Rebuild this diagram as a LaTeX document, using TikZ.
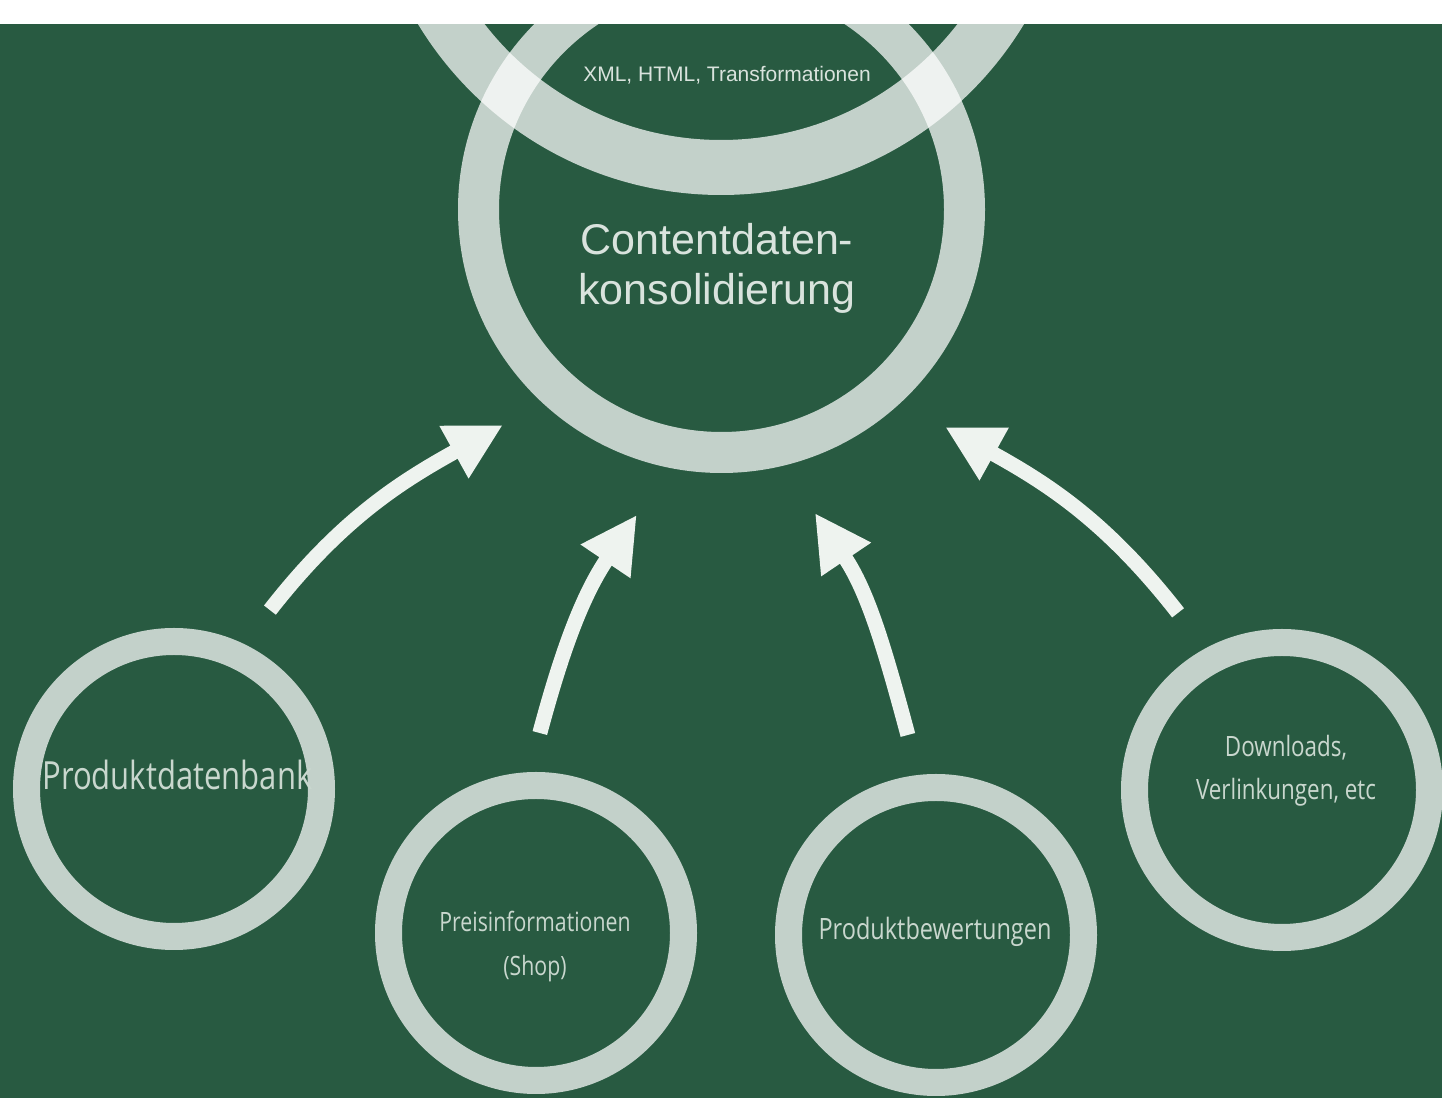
\documentclass[tikz,border=0pt]{standalone}
\usepackage{fontspec}
\newfontfamily\headfont{Liberation Sans}
\newfontfamily\handfont[FakeStretch=0.8]{Open Sans}
\usepackage{tikz}
\usetikzlibrary{arrows.meta,positioning,calc}
\definecolor{board}{HTML}{285A41}
\definecolor{chalk}{HTML}{EEF3EF}
\definecolor{chalktext}{HTML}{C9D7CE}

\begin{document}
\begin{tikzpicture}[x=0.5pt, y=0.5pt,
    ring/.style={circle, draw=white, draw opacity=0.72, inner sep=0pt},
    smallring/.style={ring, line width=13.5pt, minimum size=147.5pt},
    flow/.style={chalk, line width=7.5pt, -{Triangle[length=28pt,width=28pt]}},
    handtxt/.style={text=chalktext, font=\handfont, align=center},
    headtxt/.style={text=chalktext!70!white, font=\headfont, align=center}]
    \useasboundingbox (0,0) rectangle (1442,1098);
    \fill[white] (0,0) rectangle (1442,1098);

    \begin{scope}
    \clip (0,0) rectangle (1442,1074);
    \fill[board] (0,0) rectangle (1442,1074);

    % Frames
    \node[ring, line width=27.5pt, minimum size=326.5pt] (xml) at (721,1257) {};
    \node[ring, line width=20.5pt, minimum size=243pt] (ccc) at (721.5,888.5) {};
    \node[smallring] (pdb) at (174,309) {};
    \node[smallring] (preis) at (536,165) {};
    \node[smallring] (bew) at (936,163) {};
    \node[smallring] (dl) at (1282,308) {};

    % Labels
    \node[headtxt, font=\headfont\fontsize{10.5}{12}\selectfont] (xml-t) at ($(xml.center)+(6,-234)$) {XML, HTML, Transformationen};
    \node[headtxt, font=\headfont\fontsize{21.5}{25}\selectfont] (ccc-t) at ($(ccc.center)+(-4.5,-58.5)$) {Contentdaten-\\konsolidierung};
    \node[handtxt, font=\handfont\fontsize{19.4}{23}\selectfont] (pdb-t) at ($(pdb.center)+(3.5,14)$) {Produktdatenbank};
    \node[handtxt, font=\handfont\fontsize{13.3}{22}\selectfont] (preis-t) at ($(preis.center)+(-1,-14)$) {Preisinformationen\\(Shop)};
    \node[handtxt, font=\handfont\fontsize{14.7}{18}\selectfont] (bew-t) at ($(bew.center)+(-1,3)$) {Produktbewertungen};
    \node[handtxt, font=\handfont\fontsize{14}{21.5}\selectfont] (dl-t) at ($(dl.center)+(4,19)$) {Downloads,\\Verlinkungen, etc};

    % Flows into the consolidation
    \coordinate (a1s) at ($(pdb.center)+(61.8:101.5pt)$);
    \coordinate (a1e) at ($(ccc.center)+(224.6:153.5pt)$);
    \coordinate (a2s) at ($(preis.center)+(88.9:100pt)$);
    \coordinate (a2e) at ($(ccc.center)+(254.5:158.5pt)$);
    \coordinate (a3s) at ($(bew.center)+(98:101pt)$);
    \coordinate (a3e) at ($(ccc.center)+(287.1:158.8pt)$);
    \coordinate (a4s) at ($(dl.center)+(120.4:102.7pt)$);
    \coordinate (a4e) at ($(ccc.center)+(315.8:156pt)$);
    \draw[flow] (a1s) to[out=52,in=209] (a1e);
    \draw[flow] (a2s) to[out=75,in=236] (a2e);
    \draw[flow] (a3s) to[out=105,in=304] (a3e);
    \draw[flow] (a4s) to[out=128,in=331] (a4e);
    \end{scope}
\end{tikzpicture}
\end{document}
